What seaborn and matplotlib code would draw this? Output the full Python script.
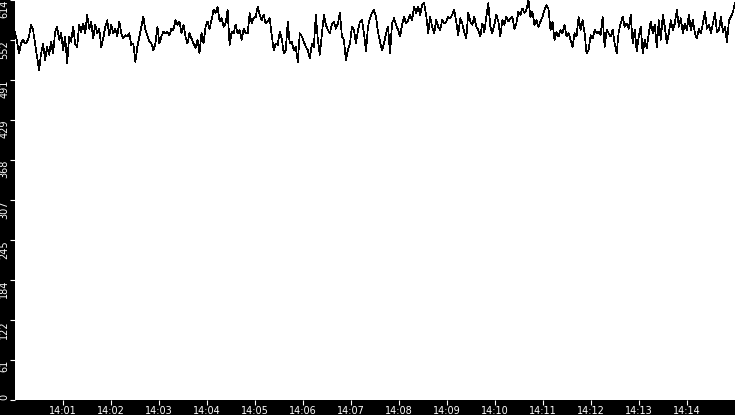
import pandas as pd
import numpy as np
import matplotlib
matplotlib.use('Agg')
import matplotlib.pyplot as plt
import matplotlib.dates as mdates
import seaborn as sns

# values, one every ~2.5 s from 14:00:00 to 14:15:00
seg1 = [565, 550, 532, 547, 553, 547, 550, 558, 576, 568, 547, 527, 506, 532, 547,
        522, 542, 530, 550, 532, 565, 573, 553, 563, 537, 558, 517, 558, 550, 573,
        547, 542, 576, 565, 578, 563, 591, 570, 581, 555, 576, 563, 570, 542, 555]
seg2 = [573, 583, 560, 576, 563, 570, 558, 581, 563, 555, 560, 558, 563, 545, 547,
        519, 542, 558, 573, 588, 568, 560, 550, 547, 537, 547, 573, 547, 558, 565,
        563, 565, 560, 570, 568, 583, 576, 581, 563, 576, 558, 547, 563, 555, 547]
seg3 = [540, 553, 532, 563, 547, 573, 581, 570, 583, 599, 594, 604, 581, 586, 573,
        578, 599, 545, 565, 563, 576, 563, 568, 553, 570, 563, 563, 594, 578, 586,
        588, 604, 591, 583, 591, 578, 581, 586, 560, 537, 547, 545, 565, 555, 532]
seg4 = [537, 581, 547, 550, 537, 542, 519, 563, 558, 550, 542, 537, 524, 547, 542,
        591, 553, 530, 560, 591, 576, 568, 563, 576, 581, 570, 578, 594, 558, 553,
        522, 537, 547, 573, 568, 547, 568, 581, 583, 563, 535, 573, 586, 594, 599]
seg5 = [588, 565, 550, 537, 547, 563, 573, 532, 578, 586, 576, 568, 558, 576, 588,
        578, 583, 591, 583, 604, 594, 604, 591, 606, 609, 591, 563, 588, 573, 563,
        583, 573, 568, 583, 578, 581, 588, 586, 591, 599, 581, 560, 586, 578, 565]
seg6 = [555, 594, 581, 576, 588, 573, 568, 558, 578, 565, 588, 609, 573, 563, 576,
        591, 581, 558, 583, 576, 588, 581, 586, 588, 570, 578, 596, 591, 601, 594,
        599, 614, 588, 596, 576, 583, 573, 581, 588, 599, 606, 601, 568, 581, 553]
seg7 = [565, 558, 568, 563, 576, 558, 563, 553, 542, 563, 558, 588, 568, 583, 563,
        532, 537, 560, 555, 568, 563, 565, 560, 588, 542, 568, 563, 558, 568, 547,
        532, 565, 578, 588, 573, 578, 570, 591, 547, 568, 535, 558, 573, 532, 553]
seg8 = [540, 563, 581, 563, 576, 542, 583, 553, 591, 573, 547, 563, 583, 568, 578,
        599, 573, 586, 563, 578, 568, 591, 568, 583, 563, 555, 570, 563, 578, 596,
        570, 576, 563, 578, 594, 565, 568, 588, 565, 573, 550, 583, 588, 596, 609]

values = seg1 + seg2 + seg3 + seg4 + seg5 + seg6 + seg7 + seg8
times = pd.date_range('2024-01-01 14:00:00', '2024-01-01 14:15:00', periods=len(values))

y_ticks = [0, 61.4, 122.8, 184.2, 245.6, 307, 368.4, 429.8, 491.2, 552.6, 614]
y_labels = ['0', '61', '122', '184', '245', '307', '368', '429', '491', '552', '614']
x_ticks = pd.date_range('2024-01-01 14:01:00', '2024-01-01 14:14:00', freq='1min')

df = pd.DataFrame({'time': times, 'value': values})

plt.rcParams['font.family'] = ['DejaVu Sans']
fig = plt.figure(figsize=(7.35, 4.15), dpi=100, facecolor='black')
ax = fig.add_axes([15 / 735, 15 / 415, 720 / 735, 400 / 415])
ax.set_facecolor('white')

sns.lineplot(data=df, x='time', y='value', color='black', linewidth=0.5,
             antialiased=False, ax=ax)

ax.set_xlim(pd.Timestamp('2024-01-01 14:00:00'), pd.Timestamp('2024-01-01 14:15:00'))
ax.set_ylim(0, 614)
ax.set_xticks(x_ticks)
ax.xaxis.set_major_formatter(mdates.DateFormatter('%H:%M'))
ax.set_yticks(y_ticks)
ax.set_yticklabels(y_labels)
ax.set_xlabel('')
ax.set_ylabel('')
for s in ax.spines.values():
    s.set_visible(False)

ax.tick_params(axis='both', colors='white', labelcolor='white', labelsize=7,
               length=3.6, width=0.8, pad=0.5)
ax.tick_params(axis='y', labelrotation=90)
for i, lab in enumerate(ax.get_yticklabels()):
    lab.set_va('bottom' if i == 0 else 'top')

fig.savefig('out.png', dpi=100, facecolor='black')
